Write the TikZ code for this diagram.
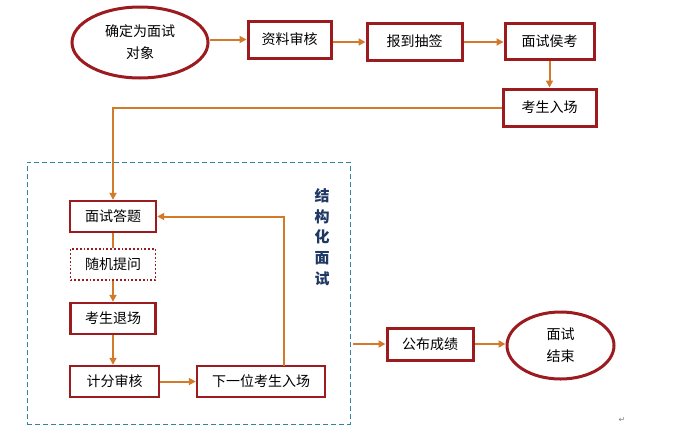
\documentclass[tikz,border=0pt]{standalone}
\usepackage{fontspec}
\setmainfont{Noto Sans CJK SC}
\newfontfamily\cjk{Noto Sans CJK SC}
\newfontfamily\djv{DejaVu Sans}
\usetikzlibrary{shapes.geometric,arrows.meta}
\definecolor{boxred}{HTML}{9B1B1E}
\definecolor{arrorange}{HTML}{D2792A}
\definecolor{frameteal}{HTML}{31849B}
\definecolor{labnavy}{HTML}{1F3864}
\tikzset{
  stepbox/.style={draw=boxred, line width=3pt, rectangle, inner sep=0pt, align=center,
    font=\cjk\fontsize{14}{22}\selectfont},
  smallbox/.style={draw=boxred, line width=2.4pt, rectangle, inner sep=0pt, align=center,
    font=\cjk\fontsize{14}{22}\selectfont},
  oval/.style={draw=boxred, line width=3pt, ellipse, inner sep=0pt, align=center,
    font=\cjk\fontsize{14}{22}\selectfont},
  flow/.style={draw=arrorange, line width=2pt, -{Triangle[length=7pt,width=7pt]}},
  plain/.style={draw=arrorange, line width=2pt},
}
\begin{document}
\begin{tikzpicture}[x=1pt,y=-1pt]
\useasboundingbox (0,0) rectangle (684,442);
% top row
\node[oval, minimum width=136pt, minimum height=71pt] (e1) at (140,42.5) {确定为面试\\对象};
\node[stepbox, minimum width=83pt, minimum height=37pt] (b1) at (289.5,39.5) {资料审核};
\node[stepbox, minimum width=95pt, minimum height=37pt] (b2) at (414.5,41.5) {报到抽签};
\node[stepbox, minimum width=89pt, minimum height=36pt] (b3) at (549.5,41) {面试侯考};
\node[stepbox, minimum width=93pt, minimum height=37pt] (b4) at (549.5,107.5) {考生入场};
% frame
\node[draw=frameteal, line width=1pt, dash pattern=on 5pt off 3pt, rectangle,
      minimum width=323pt, minimum height=262pt, inner sep=0pt] (fr) at (188.5,293) {};
\node[text=labnavy, align=center, inner sep=0pt,
      font=\cjk\bfseries\fontsize{15}{20.8}\selectfont] (lab) at (322,237) {结\\构\\化\\面\\试};
% inner boxes
\node[smallbox, minimum width=86pt, minimum height=31pt] (c1) at (113,216.5) {面试答题};
\node[draw=boxred, line width=1.8pt, dotted, rectangle, inner sep=0pt,
      font=\cjk\fontsize{14}{22}\selectfont,
      minimum width=85pt, minimum height=31pt] (c2) at (113,264.5) {随机提问};
\node[smallbox, minimum width=85pt, minimum height=31pt] (c3) at (113,318.5) {考生退场};
\node[smallbox, minimum width=89pt, minimum height=31pt] (c4) at (114.5,381.5) {计分审核};
\node[smallbox, minimum width=128pt, minimum height=31pt] (c5) at (261,381.5) {下一位考生入场};
% right
\node[stepbox, minimum width=86pt, minimum height=32pt] (p) at (430,344) {公布成绩};
\node[oval, minimum width=107pt, minimum height=67pt] (e2) at (560.5,345.5) {面试\\结束};
\node[text=gray, font=\djv\fontsize{8}{8}\selectfont, inner sep=0pt] (ret) at (622,420) {↵};
% connectors
\draw[flow] (e1.east |- b1.west) -- (b1.west);
\draw[flow] (b1.east |- 0,42) -- (b2.west |- 0,42);
\draw[flow] (b2.east |- 0,42) -- (b3.west |- 0,42);
\draw[flow] (b3.south) -- (b4.north);
\draw[flow] (b4.west) -| (c1.north);
\draw[plain] (c1.south) -- (c2.north);
\draw[flow] (c2.south) -- (c3.north);
\draw[flow] (c3.south) -- (c3.south |- c4.north);
\draw[flow] (c4.east) -- (c5.west);
\coordinate (lp) at (284,366);
\draw[flow] (lp) |- (c1.east);
\draw[flow] ([xshift=2pt]fr.east |- p.west) -- (p.west);
\draw[flow] (p.east) -- (p.east -| e2.west);
\end{tikzpicture}
\end{document}
